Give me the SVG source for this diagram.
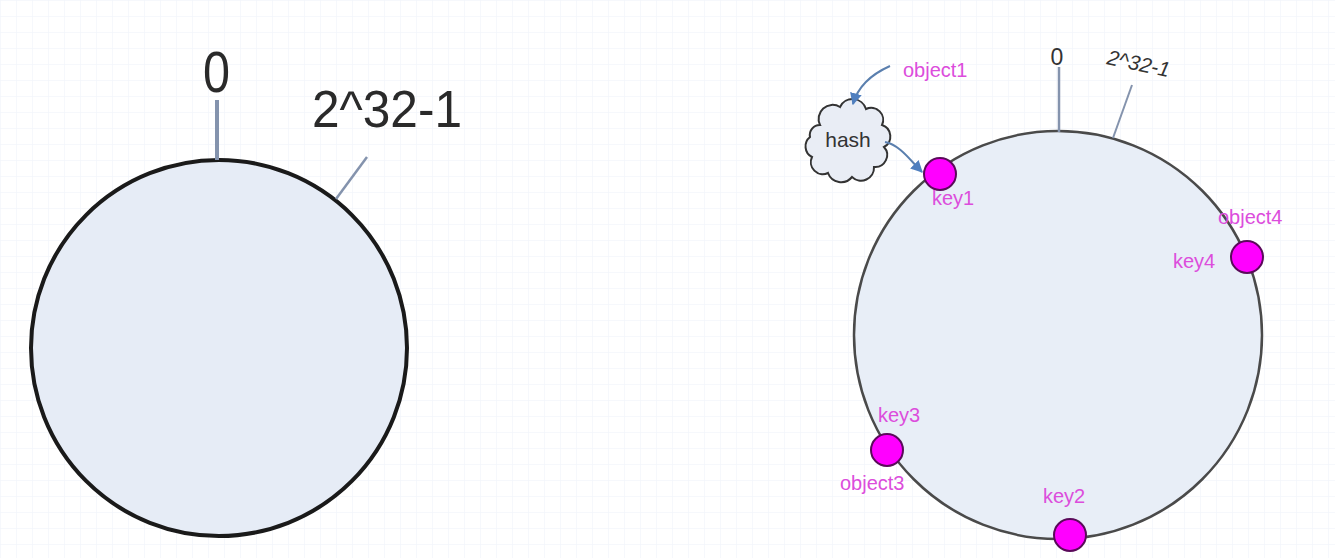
<svg xmlns="http://www.w3.org/2000/svg" width="1335" height="558" viewBox="0 0 1335 558">
  <defs>
    <pattern id="grid" width="16" height="16" patternUnits="userSpaceOnUse">
      <path d="M16,0 L0,0 L0,16" fill="none" stroke="#eef2f9" stroke-width="1"/>
    </pattern>
    <marker id="arr" viewBox="0 0 10 10" refX="9" refY="5" markerWidth="12" markerHeight="12" markerUnits="userSpaceOnUse" orient="auto">
      <path d="M0,0 L10,5 L0,10 z" fill="#4f7fbf"/>
    </marker>
    <style>
      text { font-family: "Liberation Sans", Arial, sans-serif; }
      .lbl { fill: #dc4ddc; font-size: 20px; }
      .key { fill: #ff00ff; stroke: #5a0a5a; stroke-width: 2; }
      .tick { stroke: #8493ad; fill: none; }
      .conn { fill: none; stroke: #5a7fae; stroke-width: 2; }
    </style>
  </defs>
  <rect width="1335" height="558" fill="#ffffff"/>
  <rect width="1335" height="558" fill="url(#grid)"/>

  <!-- left ring -->
  <g id="ring-left">
    <circle cx="219" cy="348" r="188" fill="#e6ecf6" stroke="#1a1a1a" stroke-width="4"/>
    <line class="tick" x1="217" y1="100" x2="217" y2="160" stroke-width="4"/>
    <line class="tick" x1="367" y1="157" x2="336" y2="199" stroke-width="2.5"/>
    <text x="203" y="92" font-size="58" textLength="27" lengthAdjust="spacingAndGlyphs" fill="#2a2a2a">0</text>
    <text x="312" y="127" font-size="52" textLength="150" lengthAdjust="spacingAndGlyphs" fill="#2a2a2a">2^32-1</text>
  </g>

  <!-- right ring -->
  <g id="ring-right">
    <circle cx="1058" cy="335" r="204" fill="#e8eef7" stroke="#4a4a4a" stroke-width="2.5"/>
    <line class="tick" x1="1059" y1="67" x2="1059" y2="132" stroke-width="2.5"/>
    <line class="tick" x1="1132" y1="85" x2="1113" y2="138" stroke-width="2"/>
    <text x="1057" y="65" font-size="23" text-anchor="middle" fill="#333">0</text>
    <text x="1106" y="64" font-size="21" font-style="italic" fill="#333" transform="rotate(12 1106 64)">2^32-1</text>
  </g>

  <!-- hash cloud -->
  <g id="hash">
    <path d="M820,125 a14,14 0 0 1 20,-18 a14,14 0 0 1 26,2 a12,12 0 0 1 16,16 a12,12 0 0 1 2,22 a12,12 0 0 1 -10,20 a13,13 0 0 1 -22,10 a14,14 0 0 1 -24,-4 a12,12 0 0 1 -16,-16 a12,12 0 0 1 -2,-20 a10,10 0 0 1 10,-12 z" fill="#e9edf5" stroke="#333" stroke-width="2"/>
    <text x="848" y="147" font-size="21" text-anchor="middle" fill="#333">hash</text>
  </g>

  <g id="object1">
    <text class="lbl" x="903" y="77" font-size="21">object1</text>
  </g>

  <g id="key1">
    <circle class="key" cx="940" cy="174" r="16"/>
    <text class="lbl" x="932" y="205">key1</text>
  </g>

  <g id="key4">
    <circle class="key" cx="1247" cy="257" r="16"/>
    <text class="lbl" x="1218" y="224">object4</text>
    <text class="lbl" x="1173" y="268">key4</text>
  </g>

  <g id="key3">
    <circle class="key" cx="887" cy="450" r="16"/>
    <text class="lbl" x="878" y="422">key3</text>
    <text class="lbl" x="840" y="490">object3</text>
  </g>

  <g id="key2">
    <circle class="key" cx="1070" cy="535" r="16"/>
    <text class="lbl" x="1043" y="503">key2</text>
  </g>

  <g id="connectors">
    <path class="conn" d="M890,66 C872,74 858,86 853,104" marker-end="url(#arr)"/>
    <path class="conn" d="M885,142 C900,145 910,160 922,172" marker-end="url(#arr)"/>
  </g>
</svg>
